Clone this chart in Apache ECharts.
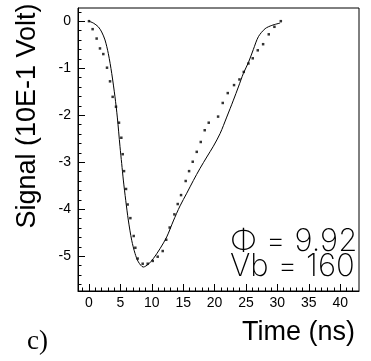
<!DOCTYPE html>
<html><head><meta charset="utf-8">
<script src="https://cdn.jsdelivr.net/npm/echarts@6/dist/echarts.min.js"></script>
<style>html,body{margin:0;padding:0;background:#fff}#c{width:371px;height:361px}</style>
</head><body><div id="c"></div>
<script>
// Solid curve (simulation)
const curveT = [0, 0.69, 1.48, 2.02, 2.55, 3.08, 3.62, 4.14, 4.51, 4.94, 5.21, 5.47, 5.85, 6.26, 6.80, 7.33, 7.86, 8.65, 9.45, 10.25, 11.31, 12.38, 13.43, 14.50, 15.57, 16.62, 17.69, 18.76, 19.81, 20.88, 21.94, 23.0, 23.79, 24.59, 25.39, 26.18, 26.98, 28.05, 29.12, 30.44];
const curveV = [0, -0.04, -0.12, -0.23, -0.40, -0.69, -1.11, -1.61, -2.04, -2.67, -3.03, -3.38, -3.81, -4.23, -4.66, -4.94, -5.12, -5.23, -5.17, -5.05, -4.84, -4.59, -4.25, -3.93, -3.66, -3.39, -3.13, -2.89, -2.66, -2.39, -2.04, -1.68, -1.40, -1.11, -0.88, -0.60, -0.33, -0.16, -0.09, -0.04];
// Dotted points (measurement)
const dotT = [0, 0.58, 1.22, 1.75, 2.28, 2.87, 3.35, 3.77, 4.30, 4.78, 5.15, 5.37, 5.58, 5.90, 6.16, 6.59, 7.12, 7.38, 7.75, 8.55, 9.35, 10.15, 10.94, 11.74, 12.3, 12.85, 13.6, 14.13, 14.66, 15.4, 15.94, 16.52, 17.16, 17.8, 18.43, 19.07, 20.56, 21.3, 22.1, 23.1, 23.96, 24.65, 25.39, 26.08, 26.88, 27.73, 28.63, 29.53, 30.55];
const dotV = [0, -0.17, -0.37, -0.58, -0.70, -0.99, -1.28, -1.61, -1.82, -2.16, -2.48, -2.83, -3.19, -3.57, -3.90, -4.19, -4.57, -4.82, -5.05, -5.16, -5.16, -5.10, -5.01, -4.89, -4.65, -4.39, -4.11, -3.89, -3.70, -3.40, -3.19, -2.99, -2.78, -2.57, -2.32, -2.16, -2.03, -1.74, -1.53, -1.36, -1.24, -1.08, -0.90, -0.79, -0.62, -0.49, -0.28, -0.12, 0];
// Axis ticks / labels
const xMajor = [0, 5, 10, 15, 20, 25, 30, 35, 40];
const xMinor = [-1,0,1,2,3,4,5,6,7,8,9,10,11,12,13,14,15,16,17,18,19,20,21,22,23,24,25,26,27,28,29,30,31,32,33,34,35,36,37,38,39,40,41,42];
const yMajor = [0, -1, -2, -3, -4, -5];
const yMinor = [];
for (let k = 1; k >= -28; k--) yMinor.push(+(k * 0.2).toFixed(2));
const xTitle = 'Time (ns)';
const yTitle = 'Signal (10E-1 Volt)';
const note1 = 'Φ = 9.92';
const note2 = 'Vb = 160';
const panel = 'c)';

const FONT = '"Liberation Sans", Arial, sans-serif';
const chart = echarts.init(document.getElementById('c'), null, {renderer: 'canvas'});
const lbl = {color: '#000', fontSize: 14, fontFamily: FONT};
chart.setOption({
  animation: false,
  grid: {left: 78, top: 8, right: 12, bottom: 70, show: true, borderColor: '#000', borderWidth: 1, backgroundColor: 'transparent'},
  xAxis: [
    {type: 'value', min: -1.75, max: 43, position: 'bottom',
     axisLine: {show: true, onZero: false, lineStyle: {color: '#000', width: 1}},
     axisTick: {show: true, inside: true, length: 7, customValues: xMajor, lineStyle: {color: '#000'}},
     axisLabel: Object.assign({customValues: xMajor, margin: 5}, lbl),
     splitLine: {show: false}},
    {type: 'value', min: -1.75, max: 43, position: 'bottom',
     axisLine: {show: false, onZero: false},
     axisTick: {show: true, inside: true, length: 3.5, customValues: xMinor, lineStyle: {color: '#000'}},
     axisLabel: {show: false}, splitLine: {show: false}}
  ],
  yAxis: [
    {type: 'value', min: -5.74, max: 0.28, position: 'left',
     axisLine: {show: true, onZero: false, lineStyle: {color: '#000', width: 1}},
     axisTick: {show: true, inside: true, length: 7, customValues: yMajor, lineStyle: {color: '#000'}},
     axisLabel: Object.assign({customValues: yMajor, margin: 7}, lbl),
     splitLine: {show: false}},
    {type: 'value', min: -5.74, max: 0.28, position: 'left',
     axisLine: {show: false, onZero: false},
     axisTick: {show: true, inside: true, length: 3.5, customValues: yMinor, lineStyle: {color: '#000'}},
     axisLabel: {show: false}, splitLine: {show: false}}
  ],
  series: [
    {type: 'line', xAxisIndex: 0, yAxisIndex: 0, data: curveT.map((t, i) => [t, curveV[i]]),
     smooth: 0.3, showSymbol: false, lineStyle: {color: '#000', width: 1}},
    {type: 'scatter', xAxisIndex: 0, yAxisIndex: 0, data: dotT.map((t, i) => [t, dotV[i]]),
     symbol: 'rect', symbolSize: 2.5, itemStyle: {color: '#000'}}
  ],
  graphic: [
    {type: 'text', x: 27.5, y: 116, rotation: Math.PI / 2,
     style: {text: yTitle, fill: '#000', font: '27px ' + FONT, align: 'center', verticalAlign: 'middle'}},
    {type: 'text', x: 355, y: 333,
     style: {text: xTitle, fill: '#000', font: '27px ' + FONT, align: 'right', verticalAlign: 'middle'}},
    {type: 'text', x: 230, y: 242,
     style: {text: note1, fill: '#000', font: '200 31px Inter, "Liberation Sans", sans-serif', align: 'left', verticalAlign: 'middle'}},
    {type: 'text', x: 230, y: 267,
     style: {text: note2, fill: '#000', font: '200 31px Inter, "Liberation Sans", sans-serif', align: 'left', verticalAlign: 'middle'}},
    {type: 'text', x: 27, y: 342,
     style: {text: panel, fill: '#000', font: '27px "Liberation Serif", "DejaVu Serif", serif', align: 'left', verticalAlign: 'middle'}}
  ]
});
</script></body></html>
